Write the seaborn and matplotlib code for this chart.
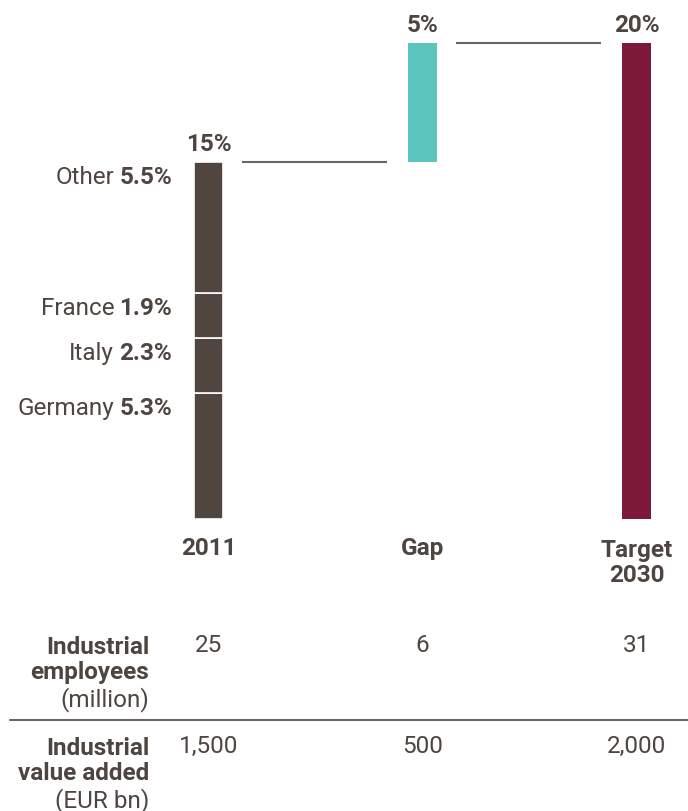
import numpy as np
import pandas as pd
import matplotlib
matplotlib.use("Agg")
import matplotlib.pyplot as plt
import seaborn as sns

# data
categories = ["2011", "Gap", "Target 2030"]
category_labels = ["2011", "Gap", "Target\n2030"]
segments = ["Germany", "Italy", "France", "Other"]
segment_values = [5.3, 2.3, 1.9, 5.5]
gap_value = 5.0
target_value = 20.0
bar_labels = ["15%", "5%", "20%"]
row_titles = ["Industrial\nemployees", "Industrial\nvalue added"]
row_units = ["(million)", "(EUR bn)"]
employees = ["25", "6", "31"]
value_added = ["1,500", "500", "2,000"]

BROWN = "#51453f"
TEAL = "#5cc5bd"
WINE = "#7c1838"
TEXT = "#4e4440"
LINE = "#6e6562"

sns.set_theme(style="white")
plt.rcParams["font.family"] = ["Roboto", "DejaVu Sans"]
FS = 17.5

W, H = 688, 812
fig = plt.figure(figsize=(W / 100, H / 100), dpi=100)
ax = fig.add_axes([0, 0, 1, 1])

bw = 0.1355
# 2011 stacked segments
bottom = 0.0
seg_tops = []
for name, v in zip(segments, segment_values):
    sns.barplot(x=[categories[0]], y=[v], order=categories, color=BROWN,
                saturation=1, width=bw, bottom=bottom, errorbar=None,
                edgecolor="white", linewidth=1.2, ax=ax)
    bottom += v
    seg_tops.append(bottom)
total_2011 = bottom

# gap and target bars
sns.barplot(x=[categories[1]], y=[gap_value], order=categories, color=TEAL,
            saturation=1, width=bw, bottom=total_2011, errorbar=None,
            linewidth=0, ax=ax)
sns.barplot(x=[categories[2]], y=[target_value], order=categories, color=WINE,
            saturation=1, width=bw, errorbar=None, linewidth=0, ax=ax)

ax.set_xlim(-0.974, 2.2407)
ax.set_ylim(-12.27, 21.85)
ax.axis("off")

# connector lines
levels = [total_2011, total_2011 + gap_value]
for i, lv in enumerate(levels):
    ax.plot([i + 0.157, i + 0.834], [lv, lv], color=LINE, lw=1.5,
            solid_capstyle="butt")

# percent labels above bars
tops = [total_2011, total_2011 + gap_value, target_value]
for i, (t, lab) in enumerate(zip(tops, bar_labels)):
    ax.text(i, t + 0.5, lab, ha="center", va="baseline", fontsize=FS,
            fontweight="bold", color=TEXT)

# segment labels to the left of the 2011 bar
for name, v, top in zip(segments, segment_values, seg_tops):
    val = ax.text(-0.1706, top - 0.88, f"{v:.1f}%", ha="right", va="baseline",
                  fontsize=FS, fontweight="bold", color=TEXT)
    ax.annotate(name, xy=(0, 0), xycoords=val, xytext=(-5, 0),
                textcoords="offset pixels", ha="right", va="bottom",
                fontsize=FS, color=TEXT)

# category names under the bars (baseline = last line)
for i, lab in enumerate(category_labels):
    nlines = lab.count("\n")
    ax.text(i, -1.47 - nlines * 1.14, lab, ha="center", va="baseline",
            fontsize=FS, fontweight="bold", color=TEXT, linespacing=1.12)

# table below
xt = ax.get_xaxis_transform()
row_base = [652, 753]
for title, unit, vals, yb in zip(row_titles, row_units, [employees, value_added], row_base):
    fig.text(149 / W, 1 - (yb + 27) / H, title, ha="right", va="baseline",
             fontsize=FS, fontweight="bold", color=TEXT, linespacing=1.12)
    fig.text(149 / W, 1 - (yb + 54) / H, unit, ha="right", va="baseline",
             fontsize=FS, color=TEXT)
    for i, v in enumerate(vals):
        ax.text(i, 1 - yb / H, v, transform=xt, ha="center", va="baseline",
                fontsize=FS, color=TEXT)

ax.plot([10 / W, 1.0], [1 - 720.5 / H, 1 - 720.5 / H], transform=ax.transAxes,
        color=LINE, lw=1.5, clip_on=False)

fig.savefig("out.png", dpi=100, facecolor="white")
